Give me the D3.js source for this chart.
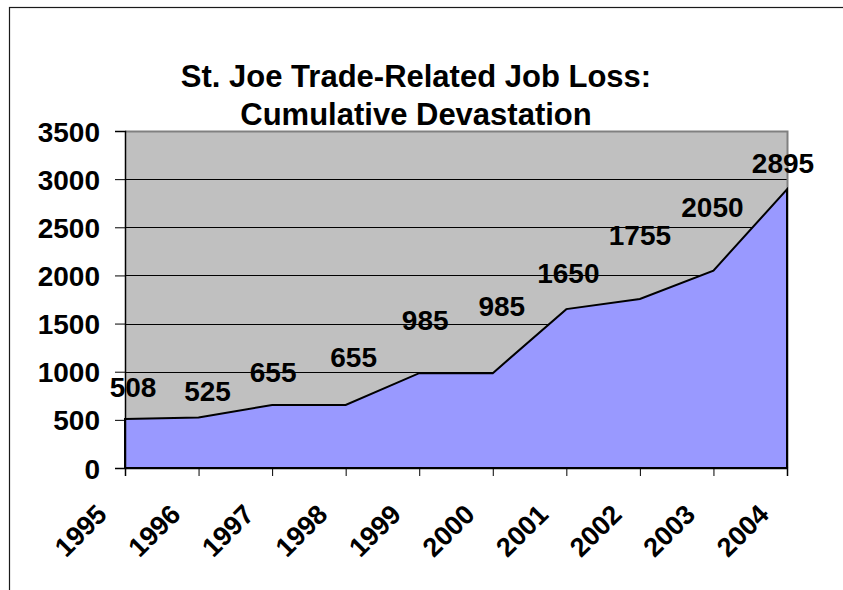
<!DOCTYPE html>
<html>
<head>
<meta charset="utf-8">
<script src="https://cdn.jsdelivr.net/npm/d3@7"></script>
<style>
  html, body { margin: 0; padding: 0; background: #fff; }
  svg { display: block; }
  text { font-family: Arial, "Liberation Sans", sans-serif; font-weight: bold; fill: #000; }
</style>
</head>
<body>
<svg id="chart" width="843" height="590"></svg>
<script>
// Cumulative trade-related job losses, St. Joe
const years = [1995, 1996, 1997, 1998, 1999, 2000, 2001, 2002, 2003, 2004];
const jobLoss = [508, 525, 655, 655, 985, 985, 1650, 1755, 2050, 2895];
const yTicks = [0, 500, 1000, 1500, 2000, 2500, 3000, 3500];
const titleLines = ["St. Joe Trade-Related Job Loss:", "Cumulative Devastation"];

// Hand-placed value label offsets (pixels): horizontal shift and lift above the point
const labelShiftX = [8, 9, 1, 8, 6, 9, 2, 0, -1, -4];
const labelLift = [22, 16, 23, 38, 43, 57, 26, 54, 54, 16];

const plot = { left: 125, right: 787, top: 131, bottom: 468 };

const svg = d3.select("#chart");

// Outer chart frame (runs off the right and bottom of the view)
svg.append("rect")
  .attr("x", 9.5).attr("y", 7.5)
  .attr("width", 900).attr("height", 700)
  .attr("fill", "none")
  .attr("stroke", "#1a1a1a")
  .attr("stroke-width", 1.2);

// Title
const title = svg.append("text")
  .attr("text-anchor", "middle")
  .style("font-size", "31px");
titleLines.forEach((line, i) => {
  title.append("tspan")
    .attr("x", 416)
    .attr("y", 87 + i * 38)
    .text(line);
});

const x = d3.scalePoint().domain(years).range([plot.left, plot.right]);
const y = d3.scaleLinear().domain([0, 3500]).range([plot.bottom, plot.top]);

// Plot background
svg.append("rect")
  .attr("x", plot.left).attr("y", plot.top)
  .attr("width", plot.right - plot.left)
  .attr("height", plot.bottom - plot.top)
  .attr("fill", "#c0c0c0");

// Horizontal gridlines
svg.append("g")
  .selectAll("line")
  .data(yTicks.filter(t => t > 0 && t < 3500))
  .join("line")
  .attr("x1", plot.left).attr("x2", plot.right)
  .attr("y1", d => Math.round(y(d)) + 0.5).attr("y2", d => Math.round(y(d)) + 0.5)
  .attr("stroke", "#000")
  .attr("stroke-width", 1);

// Plot border (top and right edges grey)
svg.append("path")
  .attr("d", `M${plot.left},${plot.top + 0.5}H${plot.right + 0.5}V${plot.bottom}`)
  .attr("fill", "none")
  .attr("stroke", "#808080")
  .attr("stroke-width", 2);

// Area
const area = d3.area()
  .x((d, i) => x(years[i]))
  .y0(y(0))
  .y1(d => y(d));

svg.append("path")
  .datum(jobLoss)
  .attr("d", area)
  .attr("fill", "#9999ff")
  .attr("stroke", "#000")
  .attr("stroke-width", 2)
  .attr("stroke-linejoin", "miter");

// Y axis
const yAxis = svg.append("g")
  .attr("transform", `translate(${plot.left},0)`)
  .call(d3.axisLeft(y).tickValues(yTicks).tickSize(10).tickPadding(15).tickFormat(d3.format("d")));
yAxis.select(".domain").attr("stroke", "#000").attr("stroke-width", 1.5);
yAxis.selectAll(".tick line").attr("stroke", "#000").attr("stroke-width", 1);
yAxis.selectAll(".tick text")
  .attr("fill", "#000")
  .attr("dy", "0.36em")
  .style("font-size", "28px")
  .style("font-family", "Arial, 'Liberation Sans', sans-serif")
  .style("font-weight", "bold");

// X axis
const xAxis = svg.append("g")
  .attr("transform", `translate(0,${plot.bottom})`)
  .call(d3.axisBottom(x).tickSize(8).tickFormat(d3.format("d")));
xAxis.select(".domain").attr("stroke", "#000").attr("stroke-width", 1.5);
xAxis.selectAll(".tick line").attr("stroke", "#000").attr("stroke-width", 1);
xAxis.selectAll(".tick text")
  .attr("fill", "#000")
  .attr("text-anchor", "end")
  .attr("x", 0).attr("y", 0).attr("dy", 0)
  .attr("transform", "translate(-17,48) rotate(-45)")
  .style("font-size", "27px")
  .style("font-family", "Arial, 'Liberation Sans', sans-serif")
  .style("font-weight", "bold");

// Value labels
svg.append("g")
  .selectAll("text")
  .data(jobLoss)
  .join("text")
  .attr("text-anchor", "middle")
  .attr("x", (d, i) => x(years[i]) + labelShiftX[i])
  .attr("y", (d, i) => y(d) - labelLift[i])
  .style("font-size", "28px")
  .text(d => d);
</script>
</body>
</html>
